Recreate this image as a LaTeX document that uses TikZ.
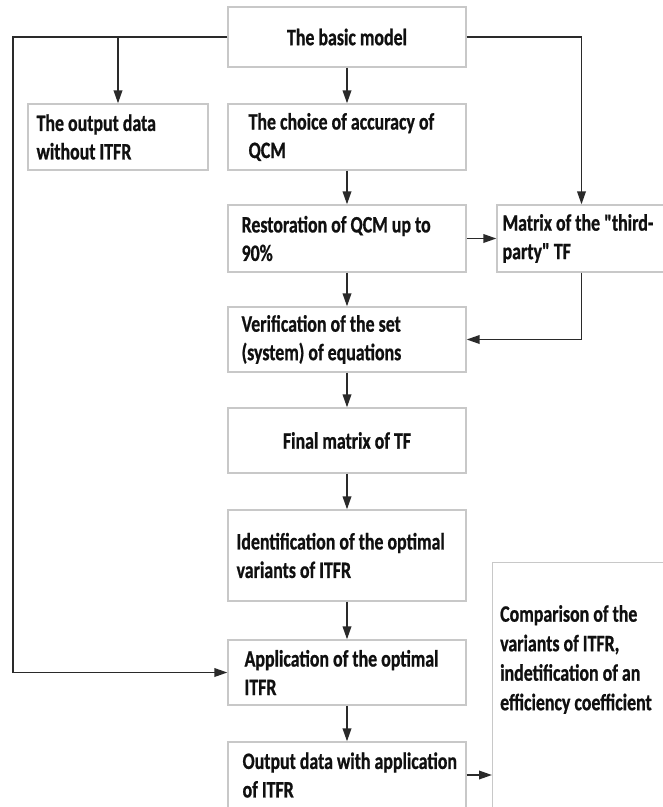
\documentclass[tikz,border=0pt]{standalone}
\usepackage{fontspec}
\setmainfont{Carlito}[FakeStretch=0.76, Ligatures=TeXOff, BoldFeatures={FakeBold=0.8}]
\usetikzlibrary{arrows.meta}
\definecolor{linec}{HTML}{2A2A2A}
\definecolor{framec}{HTML}{C8C8C8}
\definecolor{inkc}{HTML}{101010}
\newcommand\lblfont{\bfseries\fontsize{23.5pt}{28.5pt}\selectfont}
\tikzset{
  box/.style={draw=framec, line width=1.2pt, fill=white, minimum width=238pt,
    minimum height=66pt, inner sep=0pt, font=\lblfont, text=inkc},
  lbl/.style={anchor=west, align=left, inner sep=0pt, font=\lblfont, text=inkc, xshift=#1},
  arr/.style={draw=linec, line width=1.9pt, line join=miter,
    -{Triangle[length=13pt,width=8.5pt]}}
}
\begin{document}
\begin{tikzpicture}[x=1pt,y=-1pt]
  \useasboundingbox (0,0) rectangle (663,807);
  \clip (0,0) rectangle (663,807);
  \fill[white] (0,0) rectangle (663,807);

  % boxes of the main chain
  \node[box, minimum height=60pt] (basic) at (347,37) {The basic model};
  \node[box, minimum width=180pt, label={[lbl=9pt]west:{The output data\\without ITFR}}] (outd) at (118,137) {};
  \node[box, label={[lbl=21pt]west:{The choice of accuracy of\\QCM}}] (choice) at (347,137) {};
  \node[box, minimum height=67pt, label={[lbl=14pt]west:{Restoration of QCM up to\\90\%}}] (rest) at (347,238.5) {};
  \node[box, minimum width=169pt, minimum height=67pt, label={[lbl=6pt]west:{Matrix of the "third-\\party" TF}}] (mat) at (581.5,238.5) {};
  \node[box, minimum height=65pt, label={[lbl=14pt]west:{Verification of the set\\(system) of equations}}] (ver) at (347,339.5) {};
  \node[box, minimum height=65pt] (fin) at (347,440.5) {Final matrix of TF};
  \node[box, minimum height=91pt, label={[lbl=9pt]west:{Identification of the optimal\\variants of ITFR}}] (ident) at (347,555.5) {};
  \node[box, minimum height=65pt, label={[lbl=17pt]west:{Application of the optimal\\ITFR}}] (app) at (347,672.5) {};
  \node[box, label={[lbl=15pt]west:{Output data with application\\of ITFR}}] (outp) at (347,775) {};
  \node[box, anchor=north west, minimum width=190pt, minimum height=260pt,
    label={[lbl=8pt, anchor=north west, yshift=-43pt, font=\bfseries\fontsize{23.5pt}{29.5pt}\selectfont]north west:{Comparison of the\\variants of ITFR,\\indetification of an\\efficiency coefficient}}] (cmp) at (492,562) {};

  % connectors
  \coordinate (lft) at (13,0);
  \draw[arr] (basic.west) -- (basic.west -| lft) |- (app.west);
  \draw[arr] (basic.west -| outd.north) -- (outd.north);
  \draw[arr] (basic.east) -| (mat.north);
  \draw[arr] (basic.south) -- (choice.north);
  \draw[arr] (choice.south) -- (rest.north);
  \draw[arr] (rest.east) -- (rest.east -| mat.west);
  \draw[arr] (rest.south) -- (ver.north);
  \draw[arr] (mat.south) |- (ver.east);
  \draw[arr] (ver.south) -- (fin.north);
  \draw[arr] (fin.south) -- (ident.north);
  \draw[arr] (ident.south) -- (app.north);
  \draw[arr] (app.south) -- (outp.north);
  \draw[arr] (outp.east) -- (outp.east -| cmp.west);
\end{tikzpicture}
\end{document}
